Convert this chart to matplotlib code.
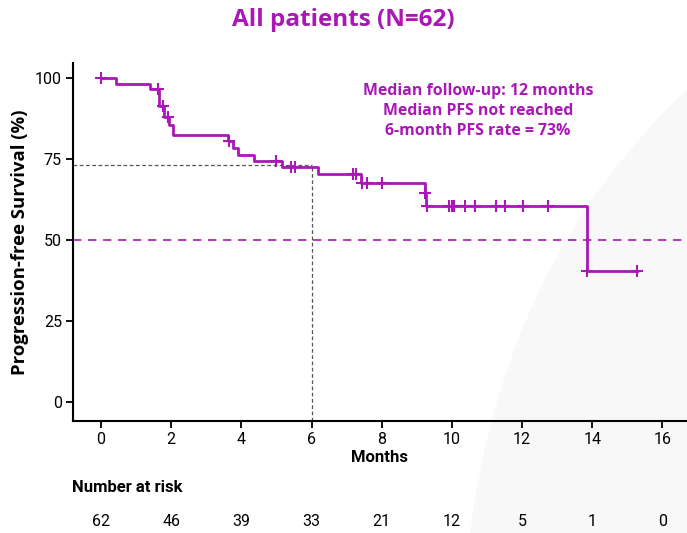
import numpy as np
import matplotlib
matplotlib.use("Agg")
import matplotlib.pyplot as plt
from matplotlib.path import Path
from matplotlib.patches import PathPatch
from matplotlib import font_manager

# ---------------- data ----------------
step_times = [0, 0.43, 1.40, 1.66, 1.79, 1.94, 2.06, 3.63, 3.75, 3.89, 4.37, 5.17, 6.19, 7.42, 9.23, 9.26, 13.85, 15.28]
step_surv = [100, 98.1, 96.5, 91.5, 88.0, 85.5, 82.4, 80.6, 78.3, 76.2, 74.5, 72.4, 70.4, 67.7, 64.6, 60.5, 40.4, 40.4]
censor_times = [0, 1.63, 1.77, 1.92, 3.65, 5.0, 5.41, 5.52, 7.18, 7.26, 7.43, 7.58, 8.02, 9.24,
                9.29, 9.91, 9.99, 10.07, 10.37, 10.65, 11.27, 11.5, 12.02, 12.74, 13.86, 15.28]
risk_times = [0, 2, 4, 6, 8, 10, 12, 14, 16]
risk_counts = [62, 46, 39, 33, 21, 12, 5, 1, 0]
yticks = [0, 25, 50, 75, 100]
median_line = 50
rate_time = 6
rate_value = 73
title = "All patients (N=62)"
annot = "Median follow-up: 12 months\nMedian PFS not reached\n6-month PFS rate = 73%"

# ---------------- style ----------------
MAG = "#A918B6"
avail = {f.name for f in font_manager.fontManager.ttflist}
cond = [f for f in ["Liberation Sans Narrow", "Roboto", "DejaVu Sans"] if f in avail]
head = [f for f in ["Open Sans", "DejaVu Sans"] if f in avail]

W, H = 687, 533
fig = plt.figure(figsize=(W / 100, H / 100), dpi=100)

# light decorative background shape in lower right (smooth curved edge)
pts = [(470, 533), (505, 260), (687, 90), (687, 533), (470, 533)]
verts = [(x / W, 1 - y / H) for x, y in pts]
codes = [Path.MOVETO, Path.CURVE3, Path.CURVE3, Path.LINETO, Path.CLOSEPOLY]
bg = PathPatch(Path(verts, codes), transform=fig.transFigure,
               facecolor="#F8F8F8", edgecolor="none", zorder=-10)
fig.add_artist(bg)

TOP = 63.3
ax = fig.add_axes([73 / W, 1 - 421 / H, (W - 73) / W, (421 - TOP) / H])
ax.set_zorder(1)
ax.set_facecolor("none")
ax.set_xlim(-0.80, 16.70)
ax.set_ylim(-5.86, (402 - TOP) / 3.24)

# KM curve
ax.step(step_times, step_surv, where="post", color=MAG, lw=2.0, zorder=3)
st = np.array(step_times)
sv = np.array(step_surv)
c_levels = [sv[np.searchsorted(st, t, side="right") - 1] for t in censor_times]
ax.plot(censor_times, c_levels, ls="none", marker="+", ms=8, mew=1.5, color=MAG, zorder=4)

# reference lines
ax.axhline(median_line, color=MAG, lw=1.2, ls=(0, (5, 4)), zorder=2)
ax.plot([-0.80, rate_time], [rate_value, rate_value], color="#555555", lw=0.9, ls=(0, (3, 2)), zorder=2)
ax.plot([rate_time, rate_time], [-5.86, rate_value], color="#555555", lw=0.9, ls=(0, (3, 2)), zorder=2)

# axes
for s in ["top", "right"]:
    ax.spines[s].set_visible(False)
for s in ["left", "bottom"]:
    ax.spines[s].set_linewidth(1.5)
ax.set_xticks(risk_times)
ax.set_yticks(yticks)
ax.tick_params(axis="both", length=5, width=1.3, labelsize=11.5, pad=3)
for lab in ax.get_xticklabels() + ax.get_yticklabels():
    lab.set_family(cond)
ax.set_xlabel("Months", fontsize=12, fontweight="bold", family=cond, labelpad=2)
ax.set_ylabel("Progression-free Survival (%)", fontsize=13.3, fontweight="bold", family=head, labelpad=4)

fig.text(478 / W, 1 - 111 / H, annot, ha="center", va="center", color=MAG,
         fontsize=11.4, fontweight="bold", family=head, linespacing=1.3)

fig.text(343 / W, 1 - 20 / H, title, ha="center", va="center", color=MAG,
         fontsize=17.5, fontweight="bold", family=head)

# number at risk
fig.text(72 / W, 1 - 488 / H, "Number at risk", ha="left", va="center", fontsize=12,
         fontweight="bold", family=cond)
for t, n in zip(risk_times, risk_counts):
    xf = fig.transFigure.inverted().transform(ax.transData.transform((t, 0)))[0]
    fig.text(xf, 1 - 521 / H, str(n), ha="center", va="center", fontsize=11.5, family=cond)

fig.savefig("out.png", dpi=100)
